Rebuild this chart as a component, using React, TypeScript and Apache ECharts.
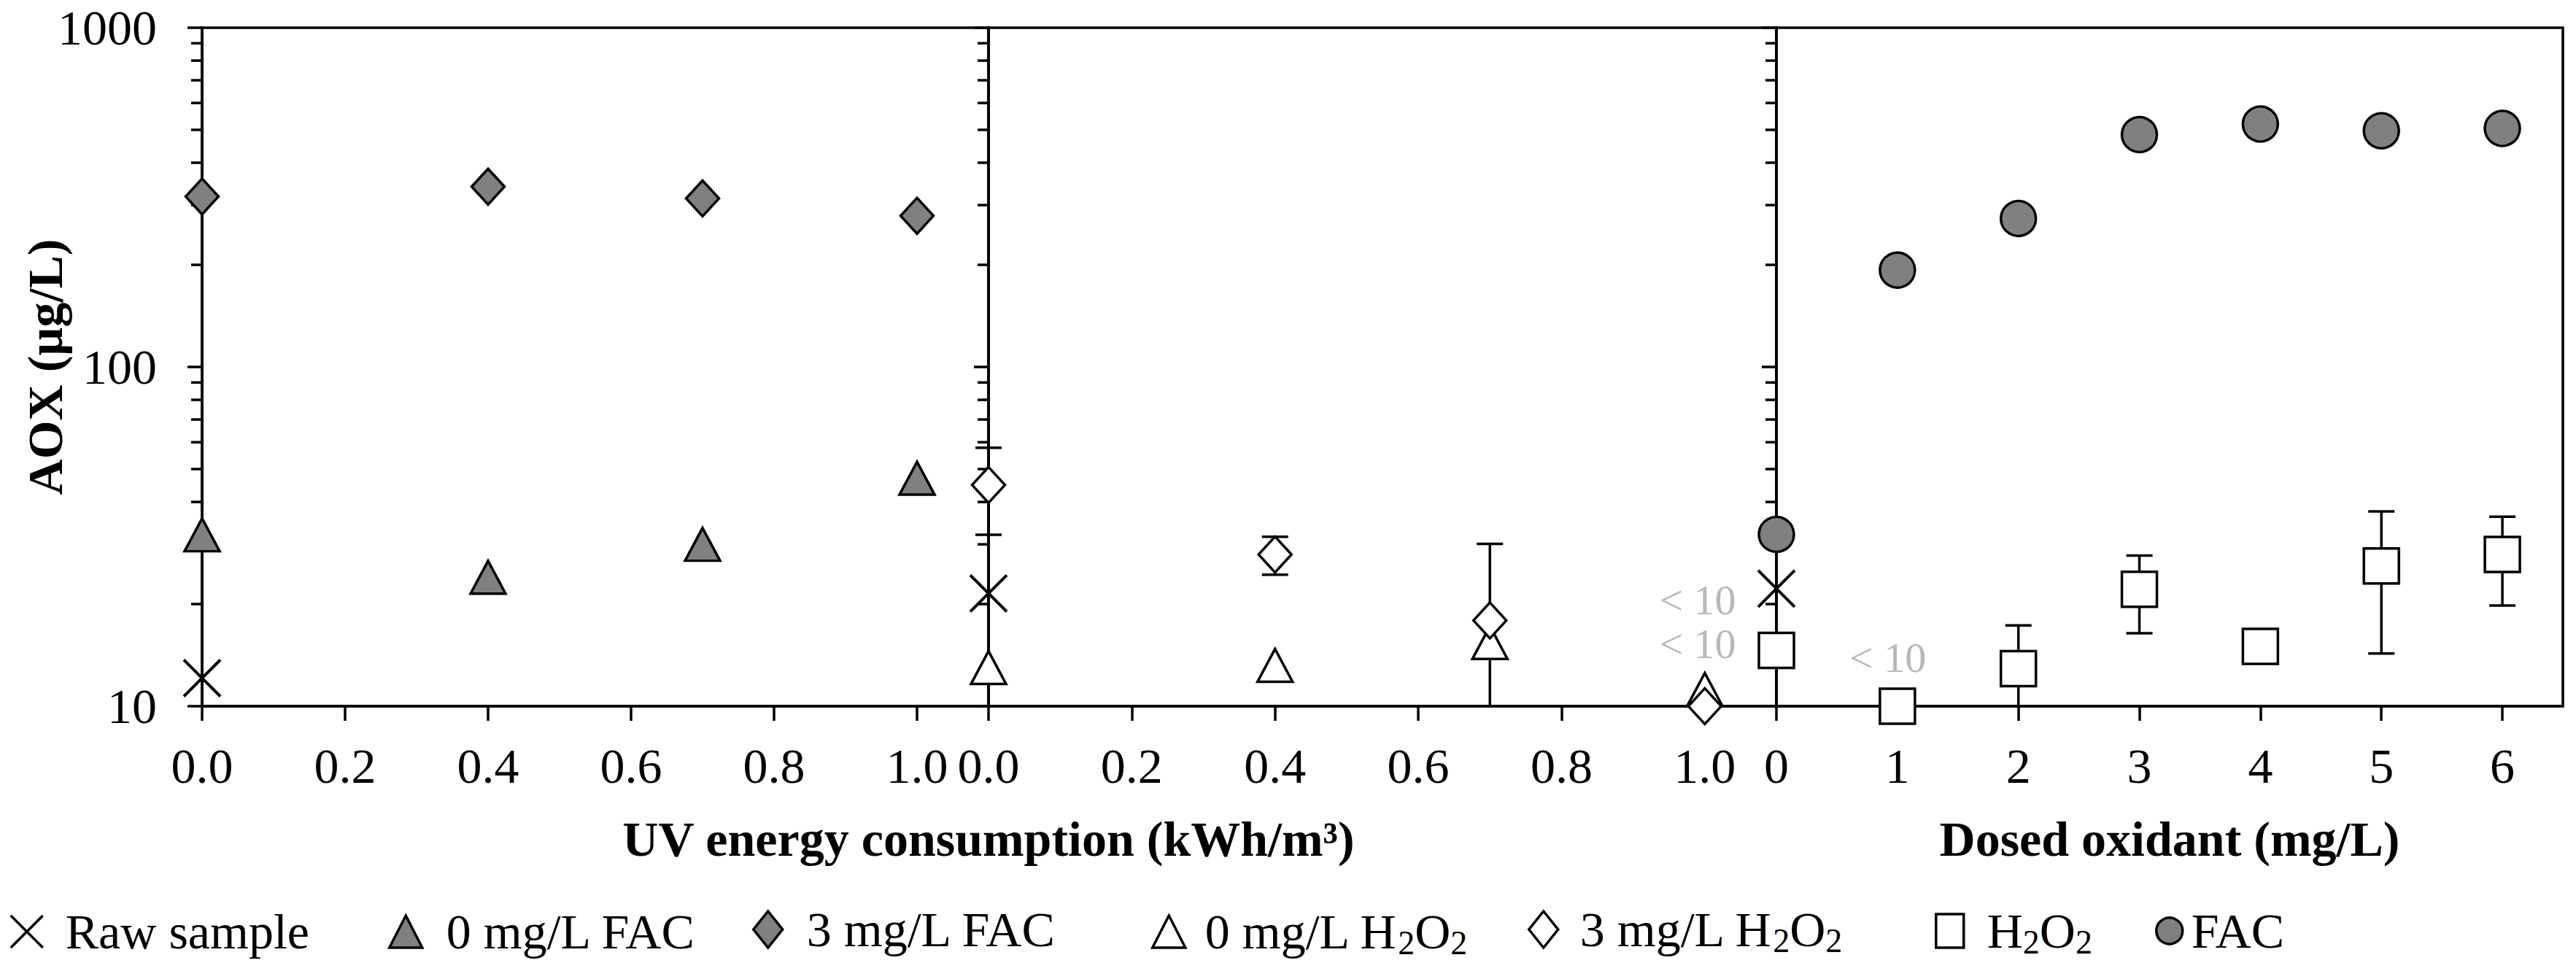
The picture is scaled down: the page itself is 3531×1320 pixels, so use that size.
import React, { useEffect, useRef } from 'react';
import * as echarts from 'echarts';

const FONT = "'Liberation Serif', 'Times New Roman', Tinos, 'DejaVu Serif', serif";

// ---------- data ----------
const uvTicks = [0, 0.2, 0.4, 0.6, 0.8, 1.0];
const doseTicks = [0, 1, 2, 3, 4, 5, 6];
const minorTickValues = [20, 30, 40, 50, 60, 70, 80, 90, 200, 300, 400, 500, 600, 700, 800, 900];

// Panel 1: UV + FAC
const uvFacX = [0, 0.4, 0.7, 1.0];
const rawUvFacX = [0];
const rawUvFac = [12.1];
const fac0 = [32, 24, 30, 47];
const fac3 = [318, 340, 314, 279];

// Panel 2: UV + H2O2
const uvH2o2X = [0, 0.4, 0.7, 1.0];
const rawUvH2o2X = [0];
const rawUvH2o2 = [21.5];
const h2o20 = [13, 13.2, 15.4, 11.2];
const h2o23 = [44.9, 28, 17.9, 10];
const h2o23Err = [12.9, 3.6, 12.2, 0];

// Panel 3: dosed oxidant
const doseX = [0, 1, 2, 3, 4, 5, 6];
const rawDoseX = [0];
const rawDose = [22.2];
const h2o2Dose = [14.6, 10, 12.9, 22.1, 15, 25.9, 28];
const h2o2DoseErr = [0, 0, 4.4, 5.7, 0, 11.6, 8.2];
const facDose = [32.1, 193, 274, 484, 520, 497, 505];

// "< 10" annotations (data coordinates)
const belowLimitUvX = [0.99, 0.99];
const belowLimitUvY = [20.6, 15.3];
const belowLimitDoseX = [0.92];
const belowLimitDoseY = [13.9];

// ---------- helpers ----------
const zip = (xs: number[], ys: number[]) => xs.map((x, i) => [x, ys[i]]);
const zip3 = (xs: number[], ys: number[], es: number[]) => xs.map((x, i) => [x, ys[i], es[i]]);

const LW = 3.5;
const BLACK = '#000';
const GRAY = '#808080';
const CROSS = 'path://M0,0L100,100M100,0L0,100';

const errorBarItem = (params: any, api: any) => {
  const x = api.value(0);
  const y = api.value(1);
  const e = api.value(2);
  if (!e) return null;
  const top = api.coord([x, y + e]);
  const lowVal = y - e;
  const clipped = lowVal < 10;
  const bot = api.coord([x, clipped ? 10 : lowVal]);
  const half = 18;
  const st = { stroke: BLACK, lineWidth: LW };
  const children: any[] = [
    { type: 'line', shape: { x1: top[0], y1: top[1], x2: bot[0], y2: bot[1] }, style: st },
    { type: 'line', shape: { x1: top[0] - half, y1: top[1], x2: top[0] + half, y2: top[1] }, style: st },
  ];
  if (!clipped) {
    children.push({ type: 'line', shape: { x1: bot[0] - half, y1: bot[1], x2: bot[0] + half, y2: bot[1] }, style: st });
  }
  return { type: 'group', children };
};

const minorTickItem = (params: any, api: any) => {
  const p = api.coord([api.value(0), api.value(1)]);
  return {
    type: 'line',
    shape: { x1: p[0] - 15, y1: p[1], x2: p[0], y2: p[1] },
    style: { stroke: BLACK, lineWidth: LW },
  };
};

const minorTickSeries = (idx: number) => ({
  type: 'custom',
  name: 'minor-' + idx,
  xAxisIndex: idx,
  yAxisIndex: idx,
  data: minorTickValues.map((v) => [0, v]),
  encode: { x: 0, y: 1 },
  renderItem: minorTickItem,
  clip: false,
  silent: true,
});

const scatter = (name: string, idx: number, data: number[][], symbol: string, size: any, fill: string, bw = LW) => ({
  type: 'scatter',
  name,
  xAxisIndex: idx,
  yAxisIndex: idx,
  data,
  symbol,
  symbolSize: size,
  clip: false,
  itemStyle: { color: fill, borderColor: BLACK, borderWidth: bw, opacity: 1 },
  emphasis: { disabled: true },
});

const errSeries = (idx: number, data: number[][]) => ({
  type: 'custom',
  name: 'err-' + idx,
  xAxisIndex: idx,
  yAxisIndex: idx,
  data,
  encode: { x: 0, y: 1 },
  renderItem: errorBarItem,
  clip: false,
  silent: true,
});

const noteSeries = (idx: number, xs: number[], ys: number[]) => ({
  type: 'scatter',
  name: 'note-' + idx,
  xAxisIndex: idx,
  yAxisIndex: idx,
  data: zip(xs, ys),
  symbolSize: 1,
  clip: false,
  silent: true,
  itemStyle: { color: 'rgba(0,0,0,0)' },
  label: {
    show: true,
    position: 'inside',
    formatter: '< 10',
    fontSize: 58,
    lineHeight: 40,
    fontFamily: FONT,
    color: '#a6a6a6',
  },
});

const mkX = (gridIndex: number, max: number, ticks: number[], fmt: (v: number) => string, extra: any = {}) => ({
  type: 'value',
  gridIndex,
  min: 0,
  max,
  position: 'bottom',
  axisLine: { show: true, onZero: false, lineStyle: { color: BLACK, width: LW } },
  axisTick: { show: true, inside: false, length: 20, lineStyle: { color: BLACK, width: LW }, customValues: ticks },
  axisLabel: { show: true, customValues: ticks, formatter: fmt, margin: 48, fontSize: 68, fontFamily: FONT, color: BLACK },
  splitLine: { show: false },
  nameMoveOverlap: false,
  ...extra,
});

const mkY = (gridIndex: number, showLabel: boolean, extra: any = {}) => ({
  type: 'log',
  logBase: 10,
  gridIndex,
  min: 10,
  max: 1000,
  position: 'left',
  axisLine: { show: true, onZero: false, lineStyle: { color: BLACK, width: LW } },
  axisTick: { show: true, inside: false, length: 20, lineStyle: { color: BLACK, width: LW } },
  axisLabel: {
    show: showLabel,
    margin: 62,
    fontSize: 68,
    fontFamily: FONT,
    color: BLACK,
    formatter: (v: number) => String(Math.round(v)),
  },
  splitLine: { show: false },
  minorTick: { show: false },
  minorSplitLine: { show: false },
  nameMoveOverlap: false,
  ...extra,
});

const titleStyle = { fontSize: 68, fontWeight: 'bold', fontFamily: FONT, color: BLACK };

const legendLayout = [
  { name: 'Raw sample', left: 13, w: 44, h: 44, pad: 26 },
  { name: '0 mg/L FAC', left: 532, w: 45, h: 44, pad: 28 },
  { name: '3 mg/L FAC', left: 1031, w: 40, h: 50, pad: 28 },
  { name: '0 mg/L H2O2', left: 1578, w: 45, h: 44, pad: 22 },
  { name: '3 mg/L H2O2', left: 2094, w: 40, h: 50, pad: 25 },
  { name: 'H2O2', left: 2652, w: 38, h: 46, pad: 27 },
  { name: 'FAC', left: 2954, w: 36, h: 46, pad: 7 },
];
const LEGEND_CY = 1265;

const gridBase = {
  show: true,
  borderColor: BLACK,
  borderWidth: LW,
  backgroundColor: 'transparent',
  containLabel: false,
  outerBoundsMode: 'none',
  top: 38,
  height: 930,
};

const option: any = {
  animation: false,
  backgroundColor: '#fff',
  textStyle: { fontFamily: FONT },
  grid: [
    { ...gridBase, left: 277, width: 1078 },
    { ...gridBase, left: 1355, width: 1080 },
    { ...gridBase, left: 2435, width: 1078 },
  ],
  xAxis: [
    mkX(0, 1.1, uvTicks, (v) => v.toFixed(1), {
      name: 'UV energy consumption (kWh/m³)',
      nameLocation: 'end',
      nameGap: 0,
      nameTextStyle: { ...titleStyle, align: 'center', verticalAlign: 'top', padding: [148, 0, 0, 0] },
    }),
    mkX(1, 1.1, uvTicks, (v) => v.toFixed(1)),
    mkX(2, 6.5, doseTicks, (v) => String(v), {
      name: 'Dosed oxidant (mg/L)',
      nameLocation: 'middle',
      nameGap: 148,
      nameTextStyle: { ...titleStyle, verticalAlign: 'top' },
    }),
  ],
  yAxis: [
    mkY(0, true, {
      name: 'AOX (µg/L)',
      nameLocation: 'middle',
      nameGap: 181,
      nameRotate: 90,
      nameTextStyle: titleStyle,
    }),
    mkY(1, false),
    mkY(2, false),
  ],
  legend: legendLayout.map((l) => ({
    data: [{ name: l.name }],
    left: l.left,
    top: LEGEND_CY - l.h / 2,
    itemWidth: l.w,
    itemHeight: l.h,
    padding: 0,
    orient: 'horizontal',
    selectedMode: false,
    symbolKeepAspect: false,
    itemStyle: { borderWidth: LW, borderColor: BLACK },
    formatter: (n: string) => n.replace(/H2O2/g, 'H{s|2}O{s|2}'),
    textStyle: {
      fontSize: 68,
      fontFamily: FONT,
      color: BLACK,
      lineHeight: 40,
      padding: [0, 0, 0, l.pad],
      rich: { s: { fontSize: 46, fontFamily: FONT, color: BLACK, height: 8, padding: [30, 0, 0, 0] } },
    },
  })),
  series: [
    // panel 1
    minorTickSeries(0),
    scatter('Raw sample', 0, zip(rawUvFacX, rawUvFac), CROSS, 50, 'rgba(0,0,0,0)', 4),
    scatter('0 mg/L FAC', 0, zip(uvFacX, fac0), 'triangle', [48, 45], GRAY),
    scatter('3 mg/L FAC', 0, zip(uvFacX, fac3), 'diamond', [45, 49], GRAY),
    // panel 2
    minorTickSeries(1),
    scatter('0 mg/L H2O2', 1, zip(uvH2o2X, h2o20), 'triangle', [48, 45], '#fff'),
    errSeries(1, zip3(uvH2o2X, h2o23, h2o23Err)),
    scatter('Raw sample', 1, zip(rawUvH2o2X, rawUvH2o2), CROSS, 50, 'rgba(0,0,0,0)', 4),
    scatter('3 mg/L H2O2', 1, zip(uvH2o2X, h2o23), 'diamond', [45, 49], '#fff'),
    noteSeries(1, belowLimitUvX, belowLimitUvY),
    // panel 3
    minorTickSeries(2),
    errSeries(2, zip3(doseX, h2o2Dose, h2o2DoseErr)),
    scatter('H2O2', 2, zip(doseX, h2o2Dose), 'rect', [48, 48], '#fff'),
    scatter('Raw sample', 2, zip(rawDoseX, rawDose), CROSS, 50, 'rgba(0,0,0,0)', 4),
    scatter('FAC', 2, zip(doseX, facDose), 'circle', 48, GRAY),
    noteSeries(2, belowLimitDoseX, belowLimitDoseY),
  ],
};

export default function App() {
  const ref = useRef<HTMLDivElement>(null);
  useEffect(() => {
    document.body.style.margin = '0';
    if (!ref.current) return;
    const chart = echarts.init(ref.current, null, { renderer: 'svg', width: 3531, height: 1320 });
    chart.setOption(option);
    return () => chart.dispose();
  }, []);
  return <div ref={ref} style={{ width: 3531, height: 1320 }} />;
}
